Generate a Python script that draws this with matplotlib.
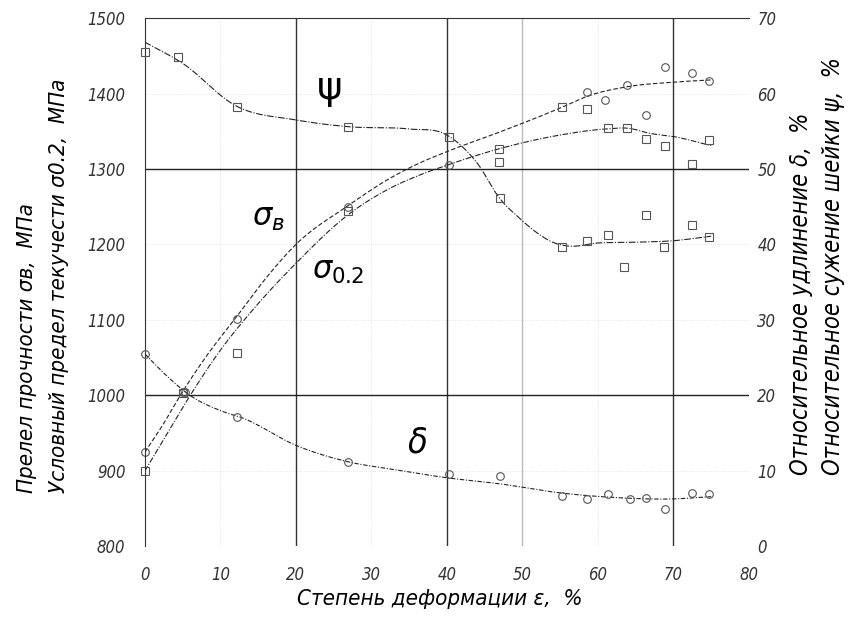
import matplotlib.pyplot as plt
import numpy as np

# Степень деформации, %
# --- точки (маркеры) ---
sb_x = [0, 5, 12.2, 26.9, 40.3, 58.5, 61, 63.9, 66.4, 68.9, 72.5, 74.7]
sb_y = [925, 1005, 1101, 1250, 1305, 1402, 1391, 1411, 1372, 1435, 1427, 1417]
s02_x = [0, 5, 12.2, 26.9, 46.9, 46.9, 55.3, 58.5, 61.3, 63.9, 66.4, 68.9, 72.5, 74.7]
s02_y = [900, 1003, 1056, 1245, 1326, 1309, 1382, 1380, 1354, 1354, 1340, 1331, 1306, 1338]
d_x = [0, 5.3, 12.2, 26.9, 40.3, 47, 55.3, 58.5, 61.3, 64.3, 66.4, 68.9, 72.5, 74.7]
d_y = [25.5, 20.5, 17.2, 11.2, 9.6, 9.3, 6.7, 6.3, 6.9, 6.3, 6.4, 5.0, 7.1, 7.0]
psi_x = [0, 4.4, 12.2, 26.9, 40.3, 47, 55.3, 58.5, 61.3, 63.4, 66.4, 68.8, 72.5, 74.7]
psi_y = [65.5, 64.8, 58.2, 55.6, 54.2, 46.1, 39.7, 40.5, 41.3, 37.0, 43.9, 39.7, 42.6, 41.0]

# --- сглаженные кривые (узлы) ---
sb_cx = [0, 2, 5, 8, 12.2, 16, 20, 27, 32, 36.4, 40, 47, 55.3, 58.5, 63.9, 70, 75]
sb_cy = [925, 955, 1005, 1050, 1105, 1155, 1200, 1252, 1285, 1308, 1323, 1349, 1382, 1396, 1409, 1415, 1418]
s02_cx = [0, 3, 6, 10, 14, 20, 27, 32, 36.4, 40, 47, 55, 61, 64, 67, 70, 75]
s02_cy = [900, 950, 1000, 1060, 1110, 1175, 1240, 1272, 1292, 1305, 1327, 1345, 1353, 1354, 1347, 1343, 1331]
d_cx = [0, 3, 6, 10, 13, 20, 27, 33, 40, 47, 55, 62, 70, 75]
d_cy = [25.5, 22.5, 20, 18, 17, 13.4, 11.2, 10.2, 9.1, 8.3, 7.1, 6.5, 6.3, 6.6]
psi_cx = [0, 5, 12, 20, 27, 35, 40, 42, 44, 47, 49.6, 52, 54, 56, 60, 65, 70, 75]
psi_cy = [66.8, 64.0, 58.4, 56.5, 55.6, 55.3, 54.5, 53.0, 50.8, 46.1, 43.5, 41.5, 40.3, 39.8, 40.2, 40.3, 40.5, 41.1]


def smooth(x, y, n=300):
    # кубическая эрмитова интерполяция
    x = np.asarray(x, float)
    y = np.asarray(y, float)
    m = np.gradient(y, x)
    xs = np.linspace(x[0], x[-1], n)
    i = np.clip(np.searchsorted(x, xs) - 1, 0, len(x) - 2)
    h = x[i + 1] - x[i]
    t = (xs - x[i]) / h
    h00 = 2 * t**3 - 3 * t**2 + 1
    h10 = t**3 - 2 * t**2 + t
    h01 = -2 * t**3 + 3 * t**2
    h11 = t**3 - t**2
    return xs, h00 * y[i] + h10 * h * m[i] + h01 * y[i + 1] + h11 * h * m[i + 1]


font = dict(family='DejaVu Sans', style='italic', stretch='condensed')

fig = plt.figure(figsize=(8.52, 6.21), dpi=100)
ax = fig.add_axes([0.170, 0.12, 0.709, 0.851])
ax2 = ax.twinx()

ax.set_xlim(0, 80)
ax.set_ylim(800, 1500)
ax2.set_ylim(0, 70)

for s in ['right', 'bottom']:
    ax.spines[s].set_visible(False)
    ax2.spines[s].set_visible(False)
ax.spines['top'].set_color('#333333')
ax.spines['left'].set_color('#333333')
ax2.spines['left'].set_visible(False)
ax2.spines['top'].set_visible(False)

# сетка
for v in [10, 30, 60]:
    ax.axvline(v, color='#dddddd', lw=0.6, ls=':')
for v in [900, 1100, 1200, 1400]:
    ax.axhline(v, color='#dddddd', lw=0.6, ls=':')
ax.axhline(800, color='#cccccc', lw=0.8, ls=':')
ax.axvline(50, color='#bbbbbb', lw=1.0)
for v in [20, 40, 70]:
    ax.axvline(v, color='#333333', lw=1.0)
for v in [1000, 1300]:
    ax.axhline(v, color='#222222', lw=1.0)

lc = '#222222'
xs, ys = smooth(sb_cx, sb_cy)
ax.plot(xs, ys, color=lc, lw=0.8, ls=(0, (4, 2)))
xs, ys = smooth(s02_cx, s02_cy)
ax.plot(xs, ys, color=lc, lw=0.8, ls=(0, (5, 1.5, 1, 1.5)))
xs, ys = smooth(d_cx, d_cy)
ax2.plot(xs, ys, color=lc, lw=0.8, ls=(0, (4, 1.5, 1, 1.5)))
xs, ys = smooth(psi_cx, psi_cy)
ax2.plot(xs, ys, color=lc, lw=0.8, ls=(0, (6, 1.5, 1, 1.5)))

mk = dict(ls='none', mfc='none', mec='#555555', mew=0.8, ms=5.5, clip_on=False)
ax.plot(sb_x, sb_y, marker='o', **mk)
ax.plot(s02_x, s02_y, marker='s', **mk)
ax2.plot(d_x, d_y, marker='o', **mk)
ax2.plot(psi_x, psi_y, marker='s', **mk)

# подписи кривых
ax.text(24.5, 1407, 'ψ', fontsize=28, ha='center', va='center', family='DejaVu Sans')
ax.text(36.1, 938, 'δ', fontsize=26, ha='center', va='center', **font)
ax.text(16.3, 1235, r'$\mathit{\sigma}_{\mathit{в}}$', fontsize=22, ha='center', va='center')
ax.text(25.6, 1164, r'$\mathit{\sigma}_{\mathit{0.2}}$', fontsize=22, ha='center', va='center')

# оси
ax.set_xticks(np.arange(0, 81, 10))
ax.set_yticks(np.arange(800, 1501, 100))
ax2.set_yticks(np.arange(0, 71, 10))
ax.tick_params(length=0, pad=14, labelsize=12, labelcolor='#333333')
ax2.tick_params(length=0, pad=6, labelsize=12, labelcolor='#333333')
for lab in ax.get_xticklabels() + ax.get_yticklabels() + ax2.get_yticklabels():
    lab.set_fontstyle('italic')
    lab.set_fontstretch('condensed')

fig.text(0.516, 0.035, 'Степень деформации ε,  %', fontsize=16, ha='center', va='center', **font)
fig.text(0.032, 0.206, 'Прелел прочности σв,  МПа', fontsize=16, rotation=90, ha='center', va='bottom', **font)
fig.text(0.069, 0.206, 'Условный предел текучести σ0.2,  МПа', fontsize=16, rotation=90, ha='center', va='bottom', **font)
fig.text(0.94, 0.235, 'Относительное удлинение δ,  %', fontsize=17, rotation=90, ha='center', va='bottom', **font)
fig.text(0.978, 0.235, 'Относительное сужение шейки ψ,  %', fontsize=17, rotation=90, ha='center', va='bottom', **font)

fig.savefig('out.png', dpi=100)
